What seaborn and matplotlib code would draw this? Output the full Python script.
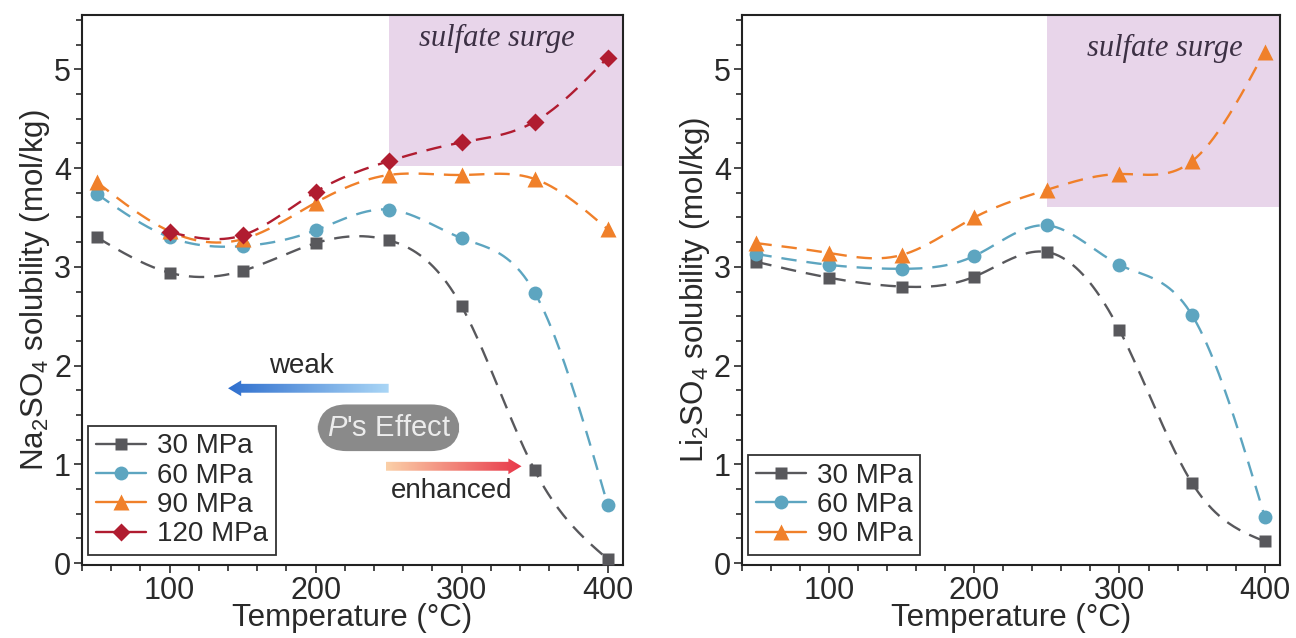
import numpy as np
import pandas as pd
import matplotlib
import matplotlib.pyplot as plt
import seaborn as sns
from matplotlib.lines import Line2D
from matplotlib.patches import Rectangle, FancyArrow
from matplotlib.ticker import MultipleLocator
from matplotlib.colors import LinearSegmentedColormap

matplotlib.use('Agg')

# Data
temps = [50, 100, 150, 200, 250, 300, 350, 400]
temps_120 = [100, 150, 200, 250, 300, 350, 400]

na_30 = [3.30, 2.94, 2.96, 3.24, 3.27, 2.60, 0.94, 0.04]
na_60 = [3.74, 3.30, 3.21, 3.37, 3.58, 3.29, 2.74, 0.59]
na_90 = [3.86, 3.36, 3.28, 3.65, 3.93, 3.93, 3.89, 3.38]
na_120 = [3.35, 3.32, 3.76, 4.07, 4.26, 4.47, 5.12]

li_30 = [3.05, 2.89, 2.80, 2.90, 3.15, 2.36, 0.81, 0.22]
li_60 = [3.13, 3.02, 2.98, 3.11, 3.42, 3.02, 2.51, 0.47]
li_90 = [3.24, 3.14, 3.12, 3.50, 3.78, 3.94, 4.07, 5.18]

pressures = ['30 MPa', '60 MPa', '90 MPa', '120 MPa']
colors = {'30 MPa': '#58585c', '60 MPa': '#5da5c0', '90 MPa': '#f0802a', '120 MPa': '#b01c30'}
markers = {'30 MPa': 's', '60 MPa': 'o', '90 MPa': '^', '120 MPa': 'D'}
msizes = {'30 MPa': 9, '60 MPa': 10, '90 MPa': 11, '120 MPa': 8.8}

surge_low = {'na': 4.02, 'li': 3.61}

sns.set_theme(style='ticks')
plt.rcParams['font.family'] = ['Liberation Sans', 'DejaVu Sans']
plt.rcParams['mathtext.fontset'] = 'custom'
plt.rcParams['mathtext.rm'] = 'Liberation Sans'
plt.rcParams['mathtext.it'] = 'Liberation Sans:italic'
plt.rcParams['mathtext.default'] = 'regular'
plt.rcParams['text.color'] = '#2a2a2a'
plt.rcParams['axes.labelcolor'] = '#2a2a2a'


def natural_spline(x, y, n=300):
    # smooth connecting curve through the measured points (like Origin's spline line)
    x = np.asarray(x, float)
    y = np.asarray(y, float)
    m = len(x)
    h = np.diff(x)
    A = np.zeros((m, m))
    r = np.zeros(m)
    A[0, 0] = A[-1, -1] = 1
    for i in range(1, m - 1):
        A[i, i - 1] = h[i - 1]
        A[i, i] = 2 * (h[i - 1] + h[i])
        A[i, i + 1] = h[i]
        r[i] = 3 * ((y[i + 1] - y[i]) / h[i] - (y[i] - y[i - 1]) / h[i - 1])
    c = np.linalg.solve(A, r)
    b = (y[1:] - y[:-1]) / h - h * (2 * c[:-1] + c[1:]) / 3
    d = (c[1:] - c[:-1]) / (3 * h)
    xs = np.linspace(x[0], x[-1], n)
    idx = np.clip(np.searchsorted(x, xs) - 1, 0, m - 2)
    dx = xs - x[idx]
    ys = y[idx] + b[idx] * dx + c[idx] * dx ** 2 + d[idx] * dx ** 3
    return xs, ys


def draw_series(ax, x, y, label):
    xs, ys = natural_spline(x, y)
    sns.lineplot(x=xs, y=ys, ax=ax, color=colors[label], lw=1.7, sort=False,
                 estimator=None, zorder=2, legend=False)
    ax.lines[-1].set_dashes((6.5, 4.2))
    ax.plot(x, y, linestyle='none', marker=markers[label], ms=msizes[label],
            color=colors[label], mec='none', zorder=3)


def grad_arrow(ax, x0, x1, y, c_tail, c_head):
    arr = FancyArrow(x0, y, x1 - x0, 0, width=0.09, head_width=0.16, head_length=9,
                     length_includes_head=True, transform=ax.transData, fc='none', ec='none')
    ax.add_patch(arr)
    cmap = LinearSegmentedColormap.from_list('g', [c_tail, c_head])
    grad = np.linspace(0, 1, 256).reshape(1, -1)
    if x1 < x0:
        grad = grad[:, ::-1]
    im = ax.imshow(grad, extent=[min(x0, x1), max(x0, x1), y - 0.1, y + 0.1],
                   cmap=cmap, aspect='auto', zorder=4, interpolation='bilinear')
    im.set_clip_path(arr)


def style_axes(ax, ylabel):
    ax.set_xlim(40, 410.5)
    ax.set_ylim(-0.02, 5.55)
    ax.xaxis.set_major_locator(MultipleLocator(100))
    ax.xaxis.set_minor_locator(MultipleLocator(20))
    ax.yaxis.set_major_locator(MultipleLocator(1))
    ax.yaxis.set_minor_locator(MultipleLocator(0.25))
    ax.tick_params(which='both', direction='out', width=1.2, colors='#2a2a2a',
                   labelsize=22, top=False, right=False)
    ax.tick_params(which='major', length=6, pad=2)
    ax.tick_params(which='minor', length=4)
    for sp in ax.spines.values():
        sp.set_visible(True)
        sp.set_linewidth(1.5)
        sp.set_color('#222222')
    ax.set_xlabel('Temperature (°C)', fontsize=22.5, labelpad=-2)
    ax.set_ylabel(ylabel, fontsize=22.5, labelpad=1)


fig = plt.figure(figsize=(12.96, 6.38), dpi=100)
ax1 = fig.add_axes([0.0633, 0.1144, 0.4174, 0.862])
ax2 = fig.add_axes([0.5725, 0.1144, 0.4151, 0.862])

# Left panel: Na2SO4
ax1.add_patch(Rectangle((250, surge_low['na']), 170, 2, color='#e8d5ea', zorder=0, lw=0))
draw_series(ax1, temps, na_30, '30 MPa')
draw_series(ax1, temps, na_60, '60 MPa')
draw_series(ax1, temps, na_90, '90 MPa')
draw_series(ax1, temps_120, na_120, '120 MPa')
ax1.text(324, 5.31, 'sulfate surge', family=['Liberation Serif', 'DejaVu Serif'],
         style='italic', fontsize=22, color='#3c3044', ha='center', va='center')

grad_arrow(ax1, 250, 140, 1.77, '#aad6f6', '#2f6fce')
grad_arrow(ax1, 248, 341, 0.98, '#fbd0a8', '#e8384a')
ax1.text(190, 2.0, 'weak', fontsize=20, ha='center', va='center')
ax1.text(293, 0.73, 'enhanced', fontsize=20, ha='center', va='center')
ax1.text(250, 1.37, r"$\mathit{P}$'s Effect", fontsize=21, color='#ececec',
         ha='center', va='center', zorder=5,
         bbox=dict(boxstyle='round,pad=0.32,rounding_size=1.0', fc='#8a8a8a', ec='none'))

style_axes(ax1, 'Na$_2$SO$_4$ solubility (mol/kg)')

# Right panel: Li2SO4
ax2.add_patch(Rectangle((250, surge_low['li']), 170, 2.5, color='#e8d5ea', zorder=0, lw=0))
draw_series(ax2, temps, li_30, '30 MPa')
draw_series(ax2, temps, li_60, '60 MPa')
draw_series(ax2, temps, li_90, '90 MPa')
ax2.text(331, 5.21, 'sulfate surge', family=['Liberation Serif', 'DejaVu Serif'],
         style='italic', fontsize=22, color='#3c3044', ha='center', va='center')
style_axes(ax2, 'Li$_2$SO$_4$ solubility (mol/kg)')


def make_legend(ax, labels):
    handles = [Line2D([0], [0], color=colors[l], marker=markers[l], ms=msizes[l],
                      mec='none', lw=1.7) for l in labels]
    leg = ax.legend(handles, labels, loc='lower left', bbox_to_anchor=(0.011, 0.018),
                    borderaxespad=0, fontsize=20, frameon=True, fancybox=False,
                    handlelength=1.8, handletextpad=0.4, labelspacing=0.12,
                    borderpad=0.28)
    leg.get_frame().set_edgecolor('#333333')
    leg.get_frame().set_linewidth(1.3)
    leg.get_frame().set_alpha(1)


make_legend(ax1, pressures)
make_legend(ax2, pressures[:3])

fig.savefig('out.png', dpi=100)
